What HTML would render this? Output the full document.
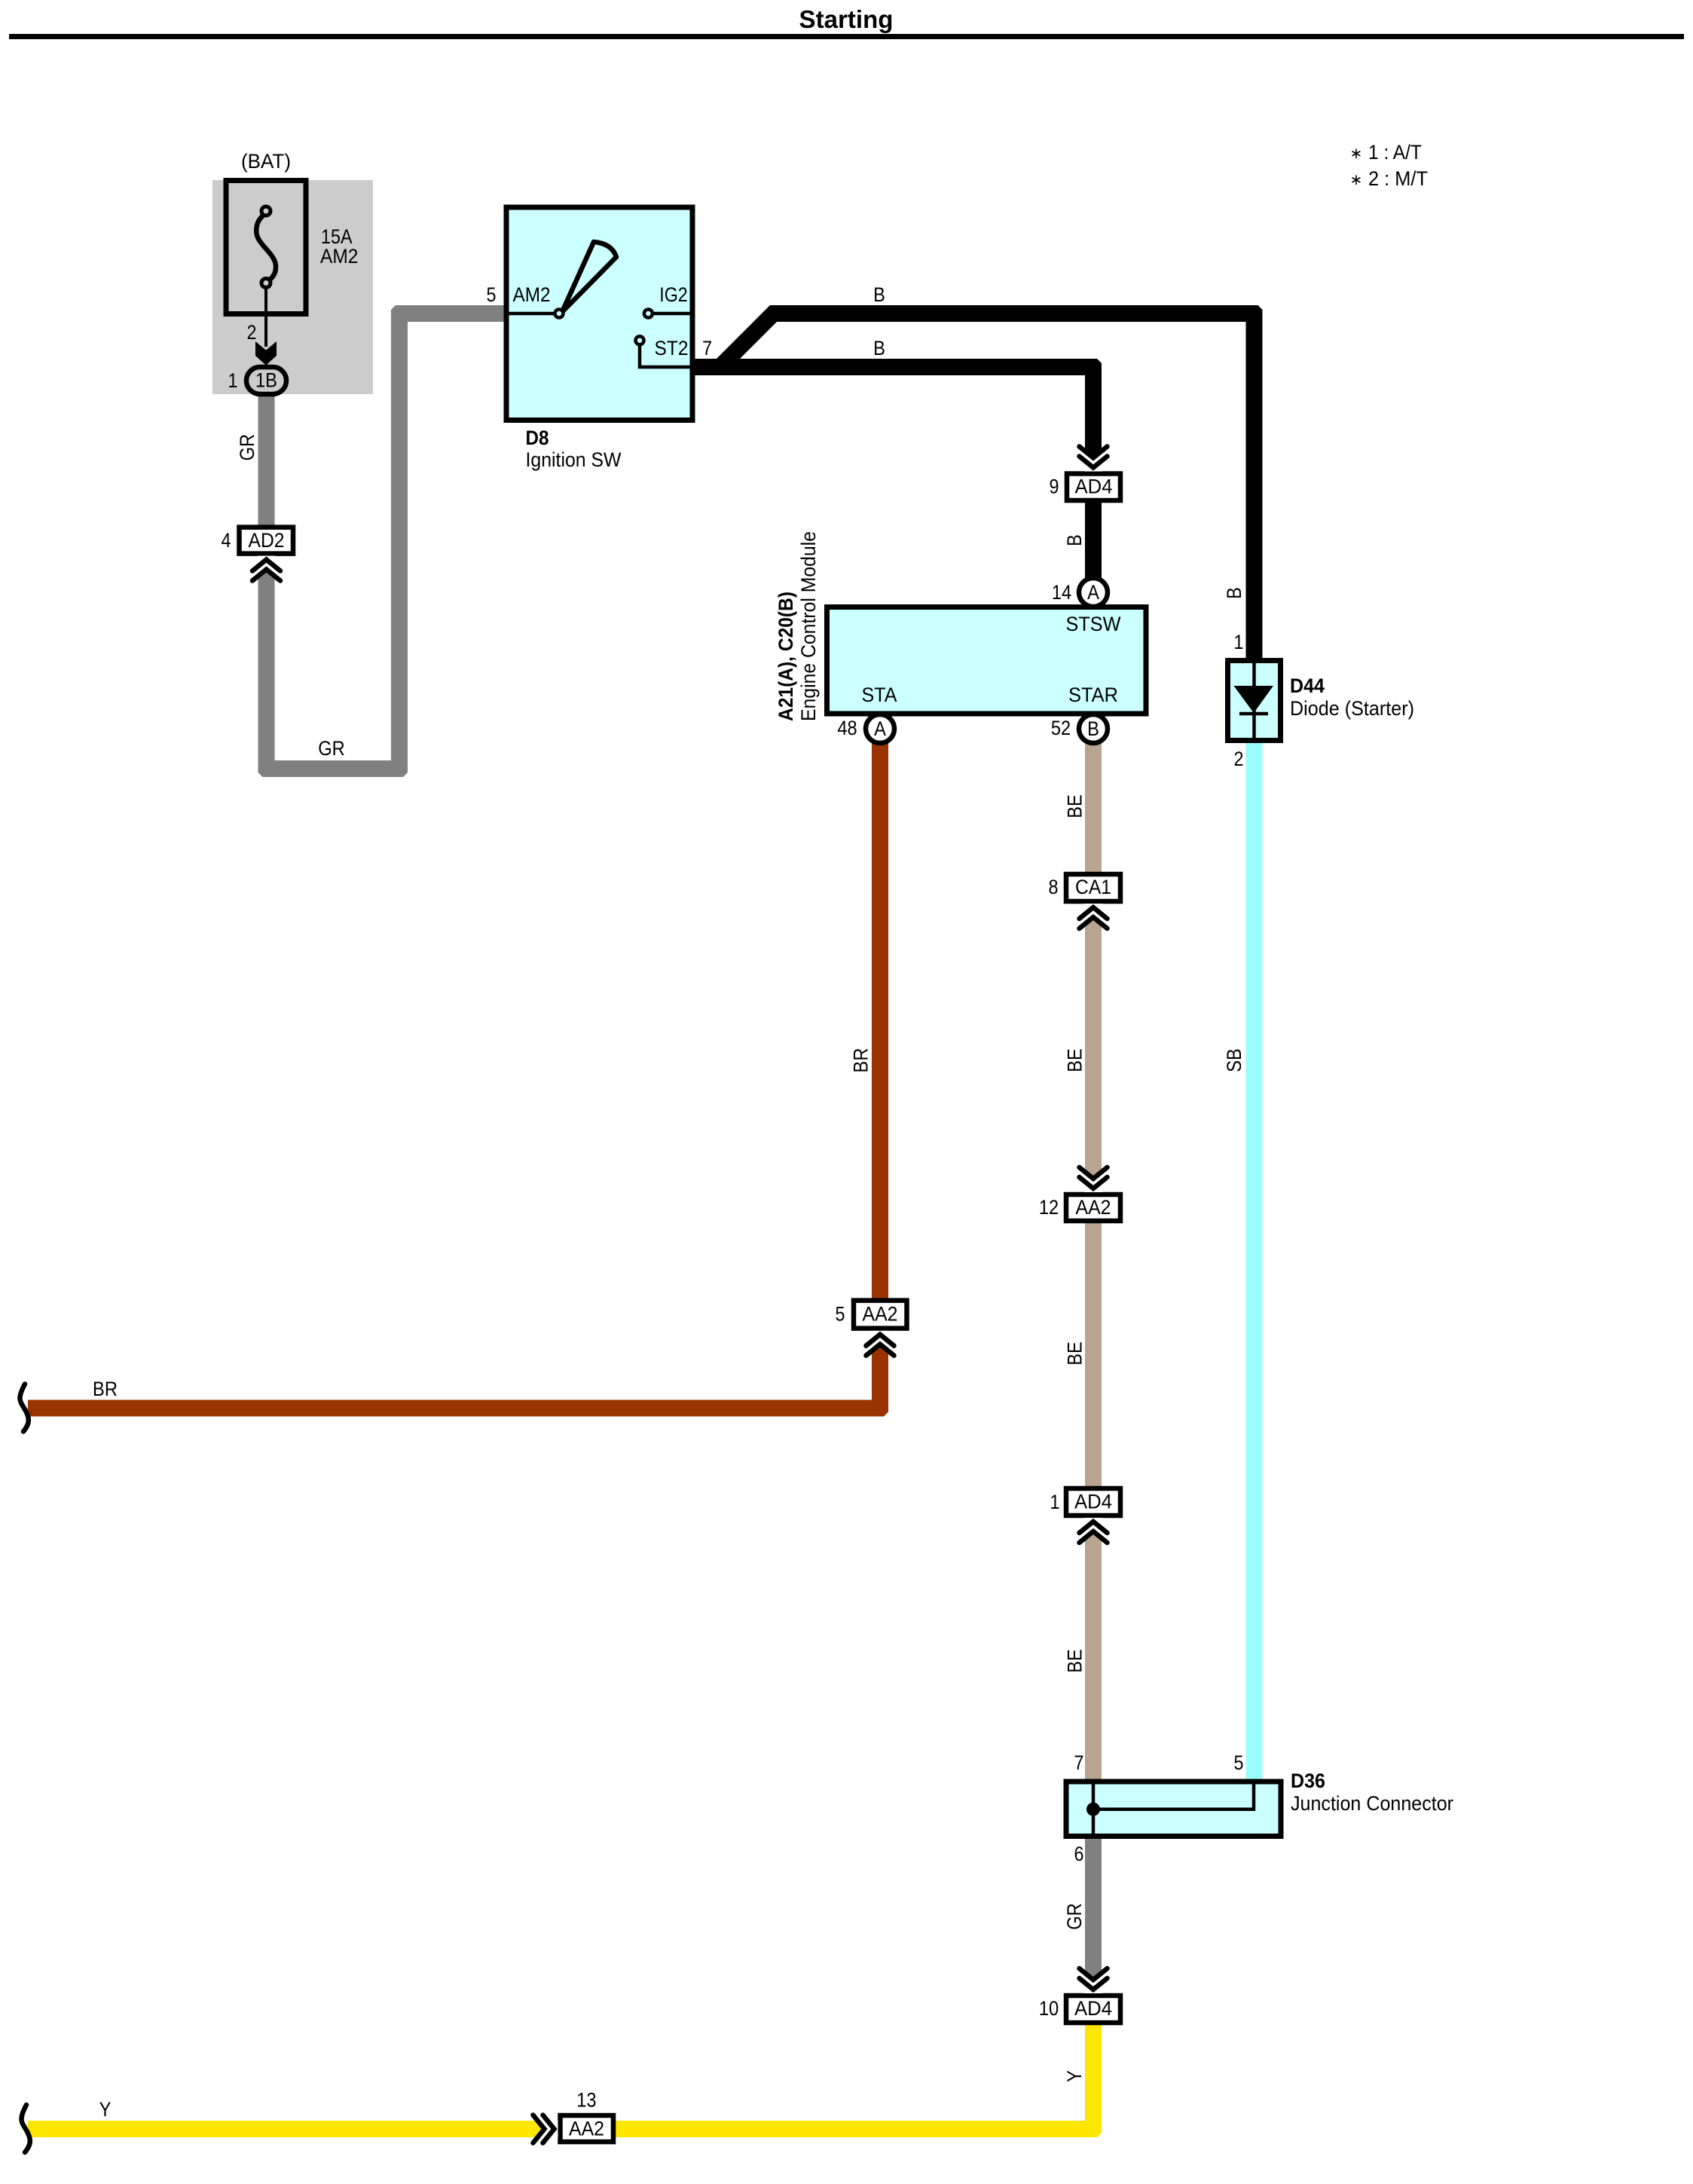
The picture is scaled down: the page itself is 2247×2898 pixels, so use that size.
<!DOCTYPE html>
<html><head><meta charset="utf-8"><title>Starting</title>
<style>
html,body{margin:0;padding:0;background:#fff}
svg{display:block}
text{font-family:"Liberation Sans",Arial,sans-serif;font-size:27px;fill:#000}
.m{text-anchor:middle}
.b{font-weight:bold}
.w{fill:none;stroke-width:22;stroke-linejoin:miter}
.c{fill:#fff;stroke:#000;stroke-width:6.500}
.h{fill:#ccffff;stroke:#000;stroke-width:7}
.l{fill:none;stroke:#000;stroke-width:4.500}
.p{fill:#ccffff;stroke:#000;stroke-width:4.500}
</style></head><body>
<svg xmlns="http://www.w3.org/2000/svg" width="2247" height="2898" viewBox="0 0 2247 2898">
<defs>
<g id="ch">
<polygon points="-12,-26 0,-15 12,-26 12,0 -12,0" fill="#fff"/>
<polyline points="-18.500,-33 0,-18 18.500,-33" fill="none" stroke="#000" stroke-width="6.500" stroke-linecap="round"/>
<polyline points="-18.500,-20 0,-5 18.500,-20" fill="none" stroke="#000" stroke-width="6.500" stroke-linecap="round"/>
</g>
<path id="wv" d="M35,2793 C25,2812 28,2815 34,2825 C42,2838 42,2845 33,2856" fill="none" stroke="#000" stroke-width="6.500" stroke-linecap="round"/>
</defs>

<rect width="2247" height="2898" fill="#fff"/>

<!-- title -->
<text x="1123" y="37" class="m b" style="font-size:33px" textLength="125" lengthAdjust="spacingAndGlyphs">Starting</text>
<rect x="12" y="45" width="2223" height="7" fill="#000"/>

<!-- notes -->
<text x="1800" y="210" class="m" style="font-family:'DejaVu Sans',sans-serif;font-size:20px">∗</text>
<text x="1816" y="211" textLength="71" lengthAdjust="spacingAndGlyphs">1 : A/T</text>
<text x="1800" y="245" class="m" style="font-family:'DejaVu Sans',sans-serif;font-size:20px">∗</text>
<text x="1816" y="246" textLength="79" lengthAdjust="spacingAndGlyphs">2 : M/T</text>

<!-- fuse block -->
<rect x="282" y="239" width="213" height="284" fill="#cccccc"/>
<rect x="300" y="239.500" width="106" height="177" fill="none" stroke="#000" stroke-width="7"/>
<path d="M349,286 C338,296 339,310 343,317 C350,330 367,340 366,355 C366,362 362,368 357,372" fill="none" stroke="#000" stroke-width="6.500"/>
<line x1="353" y1="375" x2="353" y2="460" stroke="#000" stroke-width="4"/>
<circle cx="353" cy="280" r="6" fill="#ccc" stroke="#000" stroke-width="5"/>
<circle cx="353" cy="375.500" r="6" fill="#ccc" stroke="#000" stroke-width="5"/>
<polygon points="339,453 353,464.600 367,453 367,472 353,484.600 339,472" fill="#000"/>
<text x="353" y="223" class="m" textLength="66" lengthAdjust="spacingAndGlyphs">(BAT)</text>
<text x="426" y="323" textLength="41.500" lengthAdjust="spacingAndGlyphs">15A</text>
<text x="425" y="349" textLength="50.400" lengthAdjust="spacingAndGlyphs">AM2</text>
<text x="334" y="450" class="m" textLength="13" lengthAdjust="spacingAndGlyphs">2</text>
<text x="309" y="514" class="m" textLength="13" lengthAdjust="spacingAndGlyphs">1</text>

<!-- wires -->
<path class="w" stroke="#808080" d="M353.500,526 V697"/>
<path class="w" stroke="#808080" d="M353.500,738 V1020 H530 V416 H672"/>
<path class="w" stroke="#993300" d="M1168,985 V1868.500 H37"/>
<path class="w" stroke="#b8a48f" d="M1451,985 V2361"/>
<path class="w" stroke="#99ffff" d="M1664.500,986 V2361"/>
<path class="w" stroke="#808080" d="M1451,2438 V2645"/>
<path class="w" stroke="#ffe600" d="M1451,2687 V2825 H37"/>
<path class="w" stroke="#000" d="M920,487 H1451 V786"/>
<path class="w" stroke="#000" d="M955.500,487 L1026.500,416 H1664.500 V876"/>

<!-- softened wire corners -->
<g fill="#fff">
<polygon points="519,405 525,405 519,411"/>
<polygon points="342.500,1031 348.500,1031 342.500,1025"/>
<polygon points="541,1031 535,1031 541,1025"/>
<polygon points="1179,1879.500 1173,1879.500 1179,1873.500"/>
<polygon points="1462,2836 1456,2836 1462,2830"/>
<polygon points="1675.500,405 1669.500,405 1675.500,411"/>
<polygon points="1462,476 1456,476 1462,482"/>
</g>

<use href="#wv"/>
<use href="#wv" transform="translate(-2,-956.500)"/>

<!-- oval 1B -->
<rect x="327" y="487" width="53" height="36" rx="18" ry="18" fill="#ccc" stroke="#000" stroke-width="6.500"/>
<text x="353.500" y="513.500" class="m" textLength="29" lengthAdjust="spacingAndGlyphs">1B</text>

<!-- switch D8 -->
<rect class="h" x="672" y="275" width="247" height="282.500"/>
<line x1="672" y1="416" x2="736" y2="416" class="l"/>
<line x1="866" y1="416" x2="919" y2="416" class="l"/>
<polyline points="849,458 849,487 919,487" class="l"/>
<path d="M746,414 L788,321 Q812,323 818,341 Z" fill="none" stroke="#000" stroke-width="6.500" stroke-linejoin="round"/>
<circle class="p" cx="742" cy="416" r="5.500"/>
<circle class="p" cx="860.400" cy="416" r="5.500"/>
<circle class="p" cx="849" cy="451.700" r="5.500"/>
<text x="652" y="400" class="m" textLength="13" lengthAdjust="spacingAndGlyphs">5</text>
<text x="705.500" y="400" class="m" textLength="50" lengthAdjust="spacingAndGlyphs">AM2</text>
<text x="894" y="400" class="m" textLength="37.500" lengthAdjust="spacingAndGlyphs">IG2</text>
<text x="891" y="471" class="m" textLength="45" lengthAdjust="spacingAndGlyphs">ST2</text>
<text x="938.600" y="471" class="m" textLength="13" lengthAdjust="spacingAndGlyphs">7</text>
<text x="697.500" y="590" class="b" textLength="31" lengthAdjust="spacingAndGlyphs">D8</text>
<text x="697.500" y="619" textLength="127" lengthAdjust="spacingAndGlyphs">Ignition SW</text>

<!-- wire labels horizontal -->
<text x="1167" y="400" class="m" textLength="15.800" lengthAdjust="spacingAndGlyphs">B</text>
<text x="1167" y="471" class="m" textLength="15.800" lengthAdjust="spacingAndGlyphs">B</text>
<text x="440" y="1002" class="m" textLength="35.500" lengthAdjust="spacingAndGlyphs">GR</text>
<text x="139.500" y="1852" class="m" textLength="32.900" lengthAdjust="spacingAndGlyphs">BR</text>
<text x="139.500" y="2808" class="m" textLength="15.800" lengthAdjust="spacingAndGlyphs">Y</text>

<!-- wire labels rotated -->
<text transform="translate(337,593.600) rotate(-90)" class="m" textLength="35.500" lengthAdjust="spacingAndGlyphs">GR</text>
<text transform="translate(1435,717) rotate(-90)" class="m" textLength="15.800" lengthAdjust="spacingAndGlyphs">B</text>
<text transform="translate(1647,787) rotate(-90)" class="m" textLength="15.800" lengthAdjust="spacingAndGlyphs">B</text>
<text transform="translate(1151.500,1407) rotate(-90)" class="m" textLength="32.900" lengthAdjust="spacingAndGlyphs">BR</text>
<text transform="translate(1435.500,1070) rotate(-90)" class="m" textLength="31.600" lengthAdjust="spacingAndGlyphs">BE</text>
<text transform="translate(1435.500,1407) rotate(-90)" class="m" textLength="31.600" lengthAdjust="spacingAndGlyphs">BE</text>
<text transform="translate(1435.500,1796) rotate(-90)" class="m" textLength="31.600" lengthAdjust="spacingAndGlyphs">BE</text>
<text transform="translate(1435.500,2204) rotate(-90)" class="m" textLength="31.600" lengthAdjust="spacingAndGlyphs">BE</text>
<text transform="translate(1647,1407) rotate(-90)" class="m" textLength="31.600" lengthAdjust="spacingAndGlyphs">SB</text>
<text transform="translate(1435,2543) rotate(-90)" class="m" textLength="35.500" lengthAdjust="spacingAndGlyphs">GR</text>
<text transform="translate(1435,2755) rotate(-90)" class="m" textLength="15.800" lengthAdjust="spacingAndGlyphs">Y</text>

<!-- ECM -->
<rect class="h" x="1097.500" y="805.500" width="423.500" height="141.500"/>
<text x="1451" y="837" class="m" textLength="73" lengthAdjust="spacingAndGlyphs">STSW</text>
<text x="1167" y="931" class="m" textLength="47" lengthAdjust="spacingAndGlyphs">STA</text>
<text x="1451" y="931" class="m" textLength="66" lengthAdjust="spacingAndGlyphs">STAR</text>
<circle class="c" cx="1451" cy="786" r="19"/>
<circle class="c" cx="1168" cy="967" r="19"/>
<circle class="c" cx="1451" cy="967" r="19"/>
<text x="1451" y="795" class="m" textLength="15.800" lengthAdjust="spacingAndGlyphs">A</text>
<text x="1168" y="976" class="m" textLength="15.800" lengthAdjust="spacingAndGlyphs">A</text>
<text x="1451" y="976" class="m" textLength="15.800" lengthAdjust="spacingAndGlyphs">B</text>
<text x="1409" y="795" class="m" textLength="26.300" lengthAdjust="spacingAndGlyphs">14</text>
<text x="1124.500" y="975" class="m" textLength="26.300" lengthAdjust="spacingAndGlyphs">48</text>
<text x="1408" y="975" class="m" textLength="26.300" lengthAdjust="spacingAndGlyphs">52</text>
<text transform="translate(1052,957) rotate(-90)" class="b" textLength="172" lengthAdjust="spacingAndGlyphs">A21(A), C20(B)</text>
<text transform="translate(1082,957) rotate(-90)" textLength="252" lengthAdjust="spacingAndGlyphs">Engine Control Module</text>

<!-- diode -->
<rect class="h" x="1629.500" y="876.500" width="70" height="106"/>
<line x1="1664.500" y1="876" x2="1664.500" y2="982" stroke="#000" stroke-width="4.500"/>
<polygon points="1637.500,910 1690,910 1664,946" fill="#000"/>
<line x1="1645" y1="947" x2="1683" y2="947" stroke="#000" stroke-width="4.500"/>
<text x="1644" y="861" class="m" textLength="13" lengthAdjust="spacingAndGlyphs">1</text>
<text x="1644" y="1016" class="m" textLength="13" lengthAdjust="spacingAndGlyphs">2</text>
<text x="1712" y="919" class="b" textLength="46" lengthAdjust="spacingAndGlyphs">D44</text>
<text x="1712" y="949" textLength="165" lengthAdjust="spacingAndGlyphs">Diode (Starter)</text>

<!-- D36 -->
<rect class="h" x="1415" y="2364" width="285" height="72.500"/>
<line x1="1451" y1="2364" x2="1451" y2="2436" stroke="#000" stroke-width="4.500"/>
<polyline points="1451,2400.700 1664,2400.700 1664,2364" class="l"/>
<circle cx="1451" cy="2400.700" r="9" fill="#000"/>
<text x="1432" y="2348" class="m" textLength="13" lengthAdjust="spacingAndGlyphs">7</text>
<text x="1644" y="2348" class="m" textLength="13" lengthAdjust="spacingAndGlyphs">5</text>
<text x="1432" y="2469" class="m" textLength="13" lengthAdjust="spacingAndGlyphs">6</text>
<text x="1713" y="2372" class="b" textLength="46" lengthAdjust="spacingAndGlyphs">D36</text>
<text x="1713" y="2402" textLength="216" lengthAdjust="spacingAndGlyphs">Junction Connector</text>

<!-- connectors -->
<rect class="c" x="317.500" y="699.600" width="71.500" height="35"/>
<text x="353.500" y="726" class="m" textLength="48" lengthAdjust="spacingAndGlyphs">AD2</text>
<text x="300" y="726" class="m" textLength="13" lengthAdjust="spacingAndGlyphs">4</text>
<use href="#ch" transform="translate(353.500,737.500) scale(1,-1)"/>

<rect class="c" x="1416" y="628.500" width="71" height="35.500"/>
<text x="1451.500" y="654.500" class="m" textLength="50" lengthAdjust="spacingAndGlyphs">AD4</text>
<text x="1399" y="654.500" class="m" textLength="13" lengthAdjust="spacingAndGlyphs">9</text>
<use href="#ch" transform="translate(1451,625.500)"/>

<rect class="c" x="1415" y="1160" width="72" height="36"/>
<text x="1451" y="1186" class="m" textLength="48" lengthAdjust="spacingAndGlyphs">CA1</text>
<text x="1398" y="1186" class="m" textLength="13" lengthAdjust="spacingAndGlyphs">8</text>
<use href="#ch" transform="translate(1451,1199) scale(1,-1)"/>

<rect class="c" x="1415" y="1585" width="72" height="35"/>
<text x="1451" y="1611" class="m" textLength="47" lengthAdjust="spacingAndGlyphs">AA2</text>
<text x="1392" y="1611" class="m" textLength="26.300" lengthAdjust="spacingAndGlyphs">12</text>
<use href="#ch" transform="translate(1451,1582)"/>

<rect class="c" x="1133" y="1725.600" width="70.500" height="37"/>
<text x="1168" y="1752.500" class="m" textLength="47" lengthAdjust="spacingAndGlyphs">AA2</text>
<text x="1115" y="1752.500" class="m" textLength="13" lengthAdjust="spacingAndGlyphs">5</text>
<use href="#ch" transform="translate(1168,1765.700) scale(1,-1)"/>

<rect class="c" x="1415" y="1975" width="72" height="36"/>
<text x="1451" y="2001.500" class="m" textLength="50" lengthAdjust="spacingAndGlyphs">AD4</text>
<text x="1400" y="2002" class="m" textLength="13" lengthAdjust="spacingAndGlyphs">1</text>
<use href="#ch" transform="translate(1451,2014) scale(1,-1)"/>

<rect class="c" x="1415" y="2648" width="72" height="36"/>
<text x="1451" y="2674" class="m" textLength="50" lengthAdjust="spacingAndGlyphs">AD4</text>
<text x="1392" y="2674" class="m" textLength="26.300" lengthAdjust="spacingAndGlyphs">10</text>
<use href="#ch" transform="translate(1451,2645)"/>

<rect class="c" x="743.500" y="2807" width="70.500" height="35"/>
<text x="778.500" y="2833.500" class="m" textLength="47" lengthAdjust="spacingAndGlyphs">AA2</text>
<text x="778.400" y="2795.500" class="m" textLength="26.300" lengthAdjust="spacingAndGlyphs">13</text>
<use href="#ch" transform="translate(740.500,2825) rotate(-90)"/>
</svg>
</body></html>
